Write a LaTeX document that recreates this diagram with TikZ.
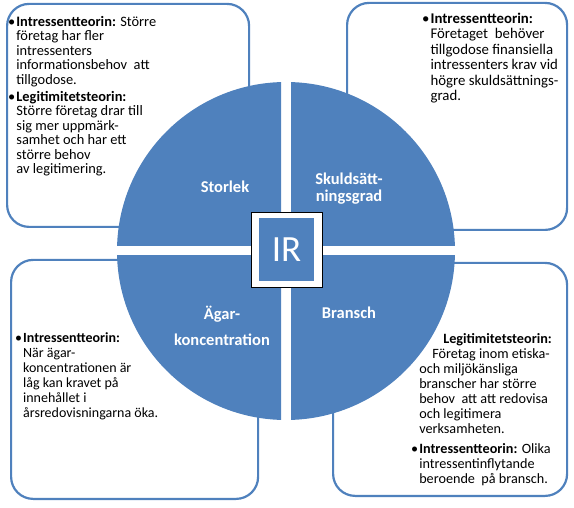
\documentclass[tikz,border=0pt]{standalone}
\usepackage{fontspec}
\setmainfont{Carlito}
\usetikzlibrary{positioning,calc}
\definecolor{irblue}{RGB}{79,129,189}

\begin{document}
\begin{tikzpicture}[x=1pt,y=1pt,
      mybox/.style = {draw=irblue, line width=2.2pt, rounded corners=22pt, fill=white, inner sep=0pt, anchor=south west},
      mytxt/.style = {anchor=north west, inner sep=0pt, align=left},
      mylbl/.style = {text=white, font=\fontsize{16.5}{17}\selectfont\bfseries, align=center},
      quad/.style = {fill=irblue}
      ]
      \useasboundingbox (0,0) rectangle (574,507);
      \coordinate (c) at (286,256);
      % text boxes
      \node[mybox, minimum width=242pt, minimum height=223pt] (tlbox) at (6,279) {};
      \node[mybox, minimum width=220pt, minimum height=227pt] (trbox) at (346,276) {};
      \node[mybox, minimum width=247pt, minimum height=239pt] (blbox) at (10,7) {};
      \node[mybox, minimum width=234pt, minimum height=233pt] (brbox) at (332,10) {};
      % four quarters of the circle
      \foreach \sx/\sy in {-1/1,1/1,-1/-1,1/-1}{
        \begin{scope}
          \clip ($(c)+(\sx*5,\sy*5)$) rectangle ++(\sx*180,\sy*180);
          \fill[quad] (c) circle (169);
        \end{scope}
      }
      \node[mylbl] (storlek) at (225,320) {Storlek};
      \node[mylbl] (skuld) at (349,318.5) {Skuldsätt-\\ningsgrad};
      \node[mylbl, font=\fontsize{16.5}{26}\selectfont\bfseries] (agar) at (222,181) {Ägar-\\koncentration};
      \node[mylbl] (bransch) at (349,194) {Bransch};
      % IR in the middle
      \node[draw=black, line width=1pt, fill=white, minimum width=71pt, minimum height=75pt, inner sep=0pt] (irframe) at (286.5,256.5) {};
      \node[fill=irblue, minimum width=55pt, minimum height=63pt, inner sep=0pt, text=white, font=\fontsize{37}{37}\selectfont] (ir) at (286.5,257.5) {IR};
      % texts
      \node[mytxt, font=\fontsize{14.4}{14.5}\selectfont] (tltxt) at (8,491) {%
        \begin{tabular}{@{}l@{\hspace{1pt}}l@{}}
        \textbullet & \textbf{Intressentteorin:} Större\\
        & företag har fler\\
        & intressenters\\
        & informationsbehov\ \ att\\
        & tillgodose.\\[2.5pt]
        \textbullet & \textbf{Legitimitetsteorin:}\\
        & Större företag drar till\\
        & sig mer uppmärk-\\
        & samhet och har ett\\
        & större behov\\
        & av legitimering.
        \end{tabular}};
      \node[mytxt, font=\fontsize{14.8}{15.5}\selectfont] (trtxt) at (422,495) {%
        \begin{tabular}{@{}l@{\hspace{1pt}}l@{}}
        \textbullet & \textbf{Intressentteorin:}\\
        & Företaget\ \ behöver\\
        & tillgodose finansiella\\
        & intressenters krav vid\\
        & högre skuldsättnings-\\
        & grad.
        \end{tabular}};
      \node[mytxt, font=\fontsize{14}{15}\selectfont] (bltxt) at (15,175.5) {%
        \begin{tabular}{@{}l@{\hspace{1pt}}l@{}}
        \textbullet & \textbf{Intressentteorin:}\\
        & När ägar-\\
        & koncentrationen är\\
        & låg kan kravet på\\
        & innehållet i\\
        & årsredovisningarna öka.
        \end{tabular}};
      \node[mytxt, font=\fontsize{14.2}{15}\selectfont] (brtxt) at (411,174.5) {%
        \begin{tabular}{@{}l@{\hspace{1pt}}l@{}}
        & \hspace*{24pt}\textbf{Legitimitetsteorin:}\\
        & \hspace*{13pt}Företag inom etiska-\\
        & och miljökänsliga\\
        & branscher har större\\
        & behov\ \ att att redovisa\\
        & och legitimera\\
        & verksamheten.\\[5pt]
        \textbullet & \textbf{Intressentteorin:} Olika\\
        & intressentinflytande\\
        & beroende\ \ på bransch.
        \end{tabular}};
    \end{tikzpicture}
\end{document}
